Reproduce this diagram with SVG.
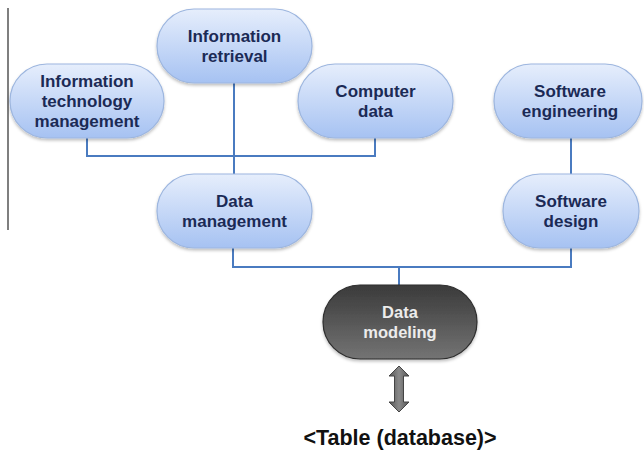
<svg xmlns="http://www.w3.org/2000/svg" width="644" height="451" viewBox="0 0 644 451">
<defs>
<linearGradient id="gb" x1="0" y1="0" x2="0" y2="1">
<stop offset="0" stop-color="#e6eefc"/>
<stop offset="1" stop-color="#a6c2f2"/>
</linearGradient>
<linearGradient id="gd" x1="0" y1="0" x2="0" y2="1">
<stop offset="0" stop-color="#3a3a3a"/>
<stop offset="1" stop-color="#747474"/>
</linearGradient>
<linearGradient id="ga" x1="0" y1="0" x2="1" y2="0">
<stop offset="0" stop-color="#555"/>
<stop offset="0.5" stop-color="#8a8a8a"/>
<stop offset="1" stop-color="#555"/>
</linearGradient>
<filter id="sh" x="-10%" y="-10%" width="120%" height="130%">
<feDropShadow dx="0" dy="2" stdDeviation="1.5" flood-color="#000" flood-opacity="0.25"/>
</filter>
</defs>
<style>
.nb{fill:url(#gb);stroke:#9db6df;stroke-width:1.2;filter:url(#sh)}
.nd{fill:url(#gd);stroke:#2e2e2e;stroke-width:1.2;filter:url(#sh)}
.tb{font-family:"Liberation Sans",Arial,sans-serif;font-weight:bold;font-size:17px;fill:#1b2a55;text-anchor:middle}
.td{font-family:"Liberation Sans",Arial,sans-serif;font-weight:bold;font-size:16.5px;fill:#ececec;text-anchor:middle}
.c{fill:none;stroke:#4a7bc0;stroke-width:2}
</style>
<line x1="8" y1="8" x2="8" y2="230" stroke="#555" stroke-width="1.5"/>
<g id="connectors">
<polyline class="c" points="87,138 87,156 375,156 375,138"/>
<line class="c" x1="234" y1="83" x2="234" y2="174"/>
<line class="c" x1="571" y1="138" x2="571" y2="174"/>
<polyline class="c" points="233,248 233,267 571,267 571,248"/>
<line class="c" x1="399" y1="267" x2="399" y2="285"/>
<path d="M399,366 L409,376 L403.5,376 L403.5,402 L409,402 L399,412 L389,402 L394.5,402 L394.5,376 L389,376 Z" fill="url(#ga)" stroke="#444" stroke-width="1"/>
</g>
<g id="n-info-retrieval">
<rect class="nb" x="157" y="9" width="155" height="74" rx="37"/>
<text class="tb" x="234.5" y="42">Information</text>
<text class="tb" x="234.5" y="62">retrieval</text>
</g>
<g id="n-itm">
<rect class="nb" x="10" y="64" width="154" height="74" rx="37"/>
<text class="tb" x="87" y="87">Information</text>
<text class="tb" x="87" y="107">technology</text>
<text class="tb" x="87" y="127">management</text>
</g>
<g id="n-computer-data">
<rect class="nb" x="298" y="64" width="155" height="74" rx="37"/>
<text class="tb" x="375.5" y="97">Computer</text>
<text class="tb" x="375.5" y="117">data</text>
</g>
<g id="n-software-engineering">
<rect class="nb" x="494" y="64" width="148" height="74" rx="37"/>
<text class="tb" x="570" y="97">Software</text>
<text class="tb" x="570" y="117">engineering</text>
</g>
<g id="n-data-management">
<rect class="nb" x="157" y="174" width="155" height="74" rx="37"/>
<text class="tb" x="234.5" y="207">Data</text>
<text class="tb" x="234.5" y="227">management</text>
</g>
<g id="n-software-design">
<rect class="nb" x="503" y="174" width="136" height="74" rx="37"/>
<text class="tb" x="571" y="207">Software</text>
<text class="tb" x="571" y="227">design</text>
</g>
<g id="n-data-modeling">
<rect class="nd" x="323" y="285" width="154" height="74" rx="37"/>
<text class="td" x="400" y="318">Data</text>
<text class="td" x="400" y="338">modeling</text>
</g>
<g id="n-table">
<text x="400" y="445" font-family="'Liberation Sans',Arial,sans-serif" font-weight="bold" font-size="21.5px" fill="#111" text-anchor="middle">&lt;Table (database)&gt;</text>
</g>
</svg>
